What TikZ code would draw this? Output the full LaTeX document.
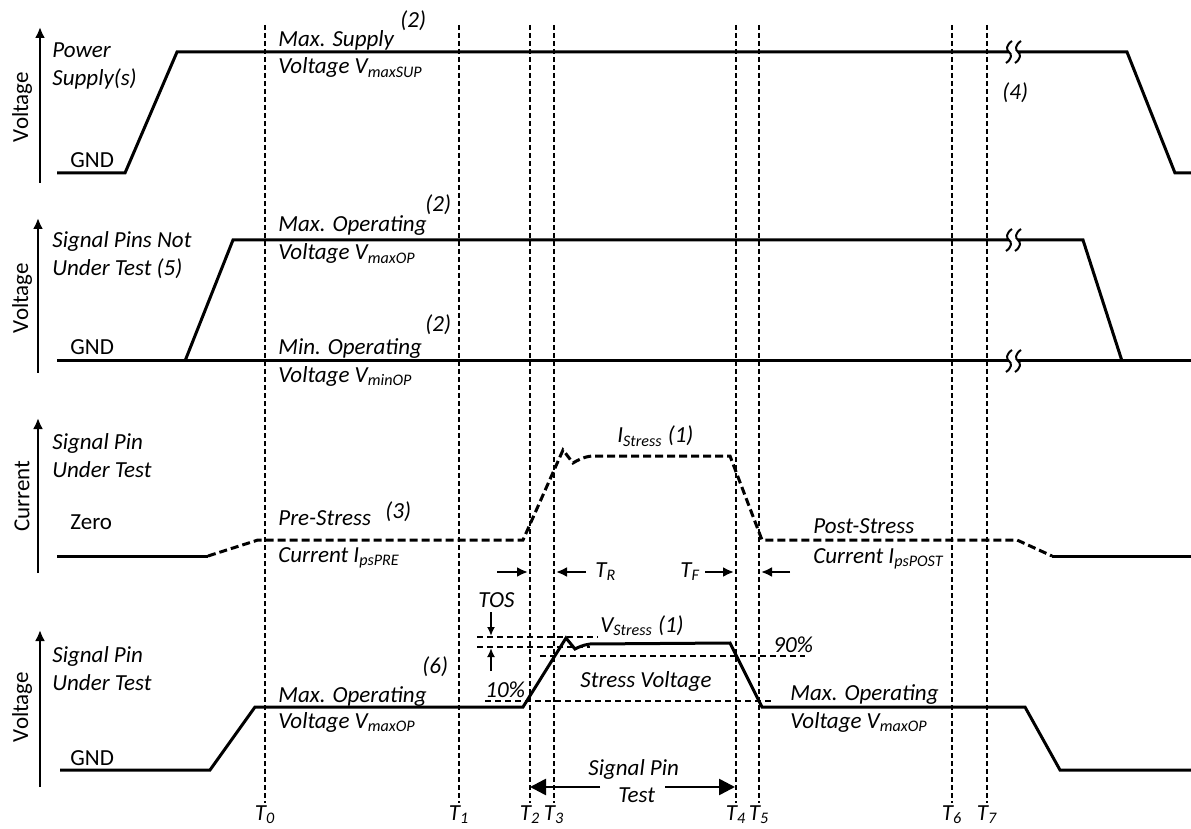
\documentclass[tikz,border=0pt]{standalone}
\usepackage{fontspec}
\setmainfont{Carlito}
\usetikzlibrary{arrows.meta}
% break mark on a long level: x, y
\newcommand{\wavebreak}[2]{%
 \fill[white] (#1,#2-6) rectangle (#1+9,#2+6);
 \draw[brk] (#1+3,#2-11) .. controls (#1-3,#2-7) and (#1-3,#2-2) .. (#1,#2) .. controls (#1+3,#2+2) and (#1+3,#2+7) .. (#1-3,#2+11);
 \draw[brk] (#1+12,#2-11) .. controls (#1+6,#2-7) and (#1+6,#2-2) .. (#1+9,#2) .. controls (#1+12,#2+2) and (#1+12,#2+7) .. (#1+6,#2+11);}
\begin{document}
\begin{tikzpicture}[x=0.5pt,y=-0.5pt,
 every node/.style={font=\fontsize{11.5}{13.5}\selectfont\itshape},
 lbl/.style={anchor=base west,inner sep=0pt},
 up/.style={lbl,font=\fontsize{11.5}{13.5}\selectfont\upshape},
 yname/.style={rotate=90,inner sep=0pt,font=\fontsize{11.5}{13.5}\selectfont\upshape},
 tlab/.style={anchor=base,inner sep=0pt},
 wave/.style={line width=1.5pt,line join=miter},
 dwave/.style={wave,dash pattern=on 4pt off 2pt},
 tline/.style={line width=1pt,dash pattern=on 2.5pt off 1.5pt},
 lvl/.style={line width=0.8pt,dash pattern=on 3pt off 2pt},
 brk/.style={line width=1pt},
 axis/.style={line width=1.3pt,-{Latex[length=5.5pt,width=5pt]}},
 tmark/.style={line width=1.3pt,-{Latex[length=5.5pt,width=5pt]}},
 tosmark/.style={line width=1pt,-{Latex[length=4.5pt,width=4pt]}},
 span/.style={line width=1.3pt,-{Triangle[length=8pt,width=8pt]}}]
\useasboundingbox (0,0) rectangle (1191,829);

% time markers
\foreach \x/\i in {265/0,459/1,530/2,554/3,736/4,759/5,952/6,987/7}{
 \draw[tline] (\x,25) -- (\x,803);
 \node[tlab] (t\i) at (\x,820) {T\textsubscript{\i}};
}

% power supply
\draw[axis] (40,183) -- (40,27);
\node[yname] (vps) at (22,107) {Voltage};
\node[lbl] (ps1) at (52,58) {Power};
\node[lbl] (ps2) at (52,86) {Supply(s)};
\node[up] (gps) at (70,168) {GND};
\draw[wave] (57,173) -- (125,173) -- (177,52) -- (1127,52) -- (1175,173) -- (1191,173);
\wavebreak{1009}{52}
\node[lbl] (msup1) at (278,47) {Max. Supply};
\node[lbl] (msup2) at (278,74) {Voltage V\textsubscript{maxSUP}};
\node[lbl] (nsup) at (400,28) {(2)};
\node[lbl] (nbrk) at (1002,100) {(4)};

% pins not under test
\draw[axis] (38,373) -- (38,218);
\node[yname] (vnt) at (22,298) {Voltage};
\node[lbl] (nt1) at (52,248) {Signal Pins Not};
\node[lbl] (nt2) at (52,276) {Under Test (5)};
\node[up] (gnt) at (70,355) {GND};
\draw[wave] (185,361) -- (233,240) -- (1083,240) -- (1122,361);
\draw[wave] (57,361) -- (1191,361);
\wavebreak{1009}{240}
\wavebreak{1009}{361}
\node[lbl] (mop1) at (278,232) {Max. Operating};
\node[lbl] (mop2) at (278,260) {Voltage V\textsubscript{maxOP}};
\node[lbl] (nmop) at (425,212) {(2)};
\node[lbl] (mnop1) at (278,355) {Min. Operating};
\node[lbl] (mnop2) at (278,382) {Voltage V\textsubscript{minOP}};
\node[lbl] (nmnop) at (425,332) {(2)};

% current, pin under test
\draw[axis] (38,573) -- (38,418);
\node[yname] (cut) at (22,496) {Current};
\node[lbl] (cu1) at (52,450) {Signal Pin};
\node[lbl] (cu2) at (52,478) {Under Test};
\node[up] (zero) at (70,530) {Zero};
\draw[wave] (57,556) -- (208,556);
\draw[dwave] (208,556) -- (258,540) -- (523,540) -- (563,450) -- (573,463) .. controls (578,460) and (583,457) .. (592,456) -- (730,456) -- (762,540) -- (1017,540) -- (1052,556);
\draw[wave] (1052,556) -- (1191,556);
\node[lbl] (pre1) at (278,525) {Pre-Stress};
\node[lbl] (pre2) at (278,562) {Current I\textsubscript{psPRE}};
\node[lbl] (npre) at (385,518) {(3)};
\node[lbl] (istr) at (617,443) {I\textsubscript{Stress} (1)};
\node[lbl] (post1) at (813,533) {Post-Stress};
\node[lbl] (post2) at (813,563) {Current I\textsubscript{psPOST}};
\draw[tmark] (497,572) -- (528,572);
\draw[tmark] (586,572) -- (556,572);
\node[lbl] (tr) at (595,577) {T\textsubscript{R}};
\node[lbl] (tf) at (680,577) {T\textsubscript{F}};
\draw[tmark] (705,572) -- (734,572);
\draw[tmark] (790,572) -- (761,572);

% voltage, pin under test
\draw[axis] (40,787) -- (40,630);
\node[yname] (vut) at (22,707) {Voltage};
\node[lbl] (vu1) at (52,662) {Signal Pin};
\node[lbl] (vu2) at (52,690) {Under Test};
\node[up] (gut) at (70,765) {GND};
\draw[lvl] (477,637) -- (598,637);
\draw[lvl] (477,647) -- (590,647);
\draw[lvl] (540,656) -- (805,656);
\draw[lvl] (485,701) -- (772,701);
\draw[wave] (60,770) -- (210,770) -- (255,707) -- (523,707) -- (566,638) -- (575,649) .. controls (579,647) and (583,645) .. (590,644) -- (730,643) -- (762,707) -- (1025,707) -- (1060,770) -- (1191,770);
\node[lbl] (tos) at (478,607) {TOS};
\draw[tosmark] (491,612) -- (491,636);
\draw[tosmark] (491,671) -- (491,648);
\node[lbl] (vstr) at (600,632) {V\textsubscript{Stress} (1)};
\node[lbl] (p90) at (773,652) {90\%};
\node[lbl] (p10) at (485,697) {10\%};
\node[lbl] (svolt) at (580,687) {Stress Voltage};
\node[lbl] (mvo1) at (278,702) {Max. Operating};
\node[lbl] (mvo2) at (278,728) {Voltage V\textsubscript{maxOP}};
\node[lbl] (nmvo) at (422,673) {(6)};
\node[lbl] (mvr1) at (790,700) {Max. Operating};
\node[lbl] (mvr2) at (790,728) {Voltage V\textsubscript{maxOP}};
\node[lbl] (spt1) at (588,775) {Signal Pin};
\node[lbl] (spt2) at (618,802) {Test};
\draw[span] (600,787) -- (530,787);
\draw[span] (665,787) -- (735,787);
\end{tikzpicture}
\end{document}
